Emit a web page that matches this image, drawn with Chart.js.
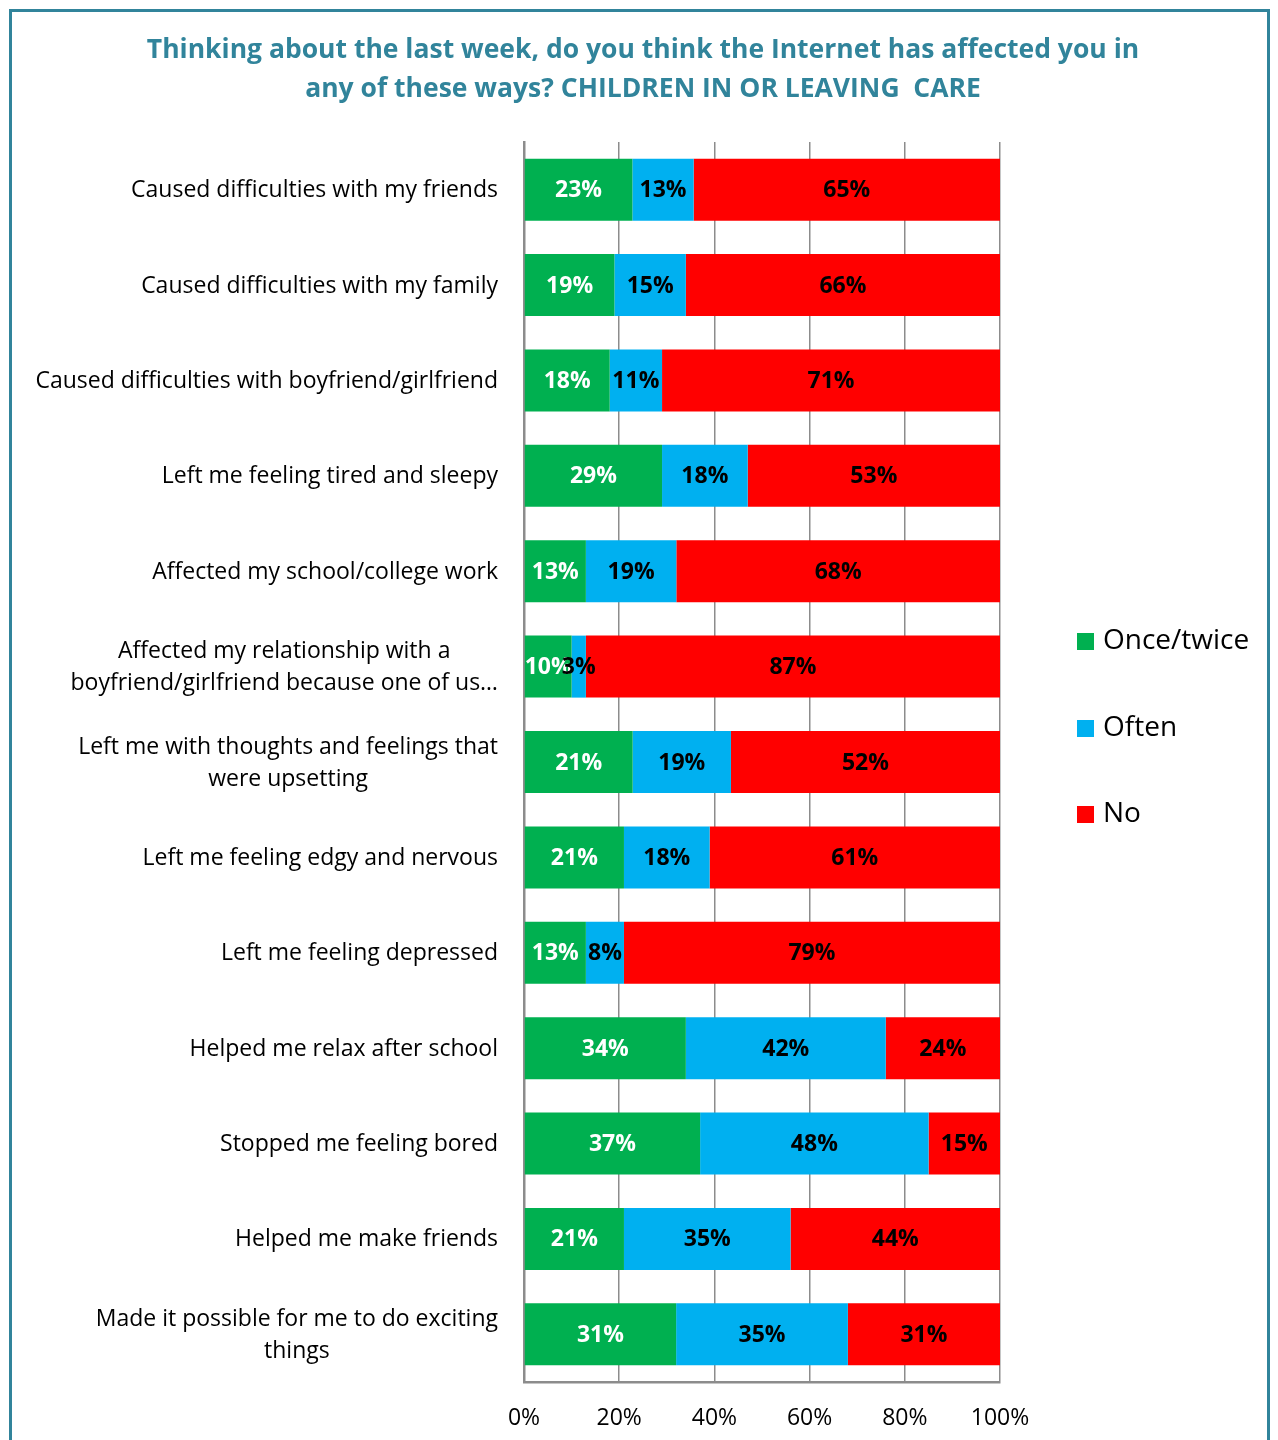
<!DOCTYPE html>
<html>
<head>
<meta charset="utf-8">
<title>Internet effects - children in or leaving care</title>
<script src="https://cdn.jsdelivr.net/npm/chart.js@4/dist/chart.umd.min.js"></script>
<style>
  html, body { margin: 0; padding: 0; background: #ffffff; }
  body { width: 1278px; height: 1440px; position: relative; overflow: hidden; }
  #frame {
    position: absolute; left: 9px; top: 9px; width: 1261px; height: 1500px;
    border: 3px solid #31849B; box-sizing: border-box;
  }
  #chart { position: absolute; left: 0; top: 0; }
</style>
</head>
<body>
<div id="frame"></div>
<canvas id="chart" width="1278" height="1440"></canvas>
<script>
// Survey statements, top to bottom
const categories = [
  "Caused difficulties with my friends",
  "Caused difficulties with my family",
  "Caused difficulties with boyfriend/girlfriend",
  "Left me feeling tired and sleepy",
  "Affected my school/college work",
  ["Affected my relationship with a", "boyfriend/girlfriend because one of us\u2026"],
  ["Left me with thoughts and feelings that", "were upsetting"],
  "Left me feeling edgy and nervous",
  "Left me feeling depressed",
  "Helped me relax after school",
  "Stopped me feeling bored",
  "Helped me make friends",
  ["Made it possible for me to do exciting", "things"]
];

// Reported percentages per answer
const onceTwice = [23, 19, 18, 29, 13, 10, 21, 21, 13, 34, 37, 21, 31];
const often     = [13, 15, 11, 18, 19,  3, 19, 18,  8, 42, 48, 35, 35];
const no        = [65, 66, 71, 53, 68, 87, 52, 61, 79, 24, 15, 44, 31];

const seriesNames = ["Once/twice", "Often", "No"];
const xTicks = [0, 20, 40, 60, 80, 100];
const titleLines = [
  "Thinking about the last week, do you think the Internet has affected you in",
  "any of these ways? CHILDREN IN OR LEAVING  CARE"
];

const FONT = "'Open Sans', 'Noto Sans', sans-serif";

// 100% stacked: each bar is scaled to the row total
const totals = onceTwice.map((v, i) => v + often[i] + no[i]);
const share = arr => arr.map((v, i) => v / totals[i] * 100);

// Two-line heading centred over the frame
const heading = {
  id: 'heading',
  afterDraw(chart) {
    const ctx = chart.ctx;
    ctx.save();
    ctx.font = "bold 26.5px " + FONT;
    ctx.fillStyle = '#31849B';
    ctx.textAlign = 'center';
    ctx.textBaseline = 'middle';
    ctx.fillText(titleLines[0], 643, 50);
    ctx.fillText(titleLines[1], 643, 89);
    ctx.restore();
  }
};

// Value labels centred in every segment
const segmentLabels = {
  id: 'segmentLabels',
  afterDatasetsDraw(chart) {
    const ctx = chart.ctx;
    ctx.save();
    ctx.font = "bold 23px " + FONT;
    ctx.textAlign = 'center';
    ctx.textBaseline = 'middle';
    chart.data.datasets.forEach((ds, di) => {
      const meta = chart.getDatasetMeta(di);
      meta.data.forEach((bar, i) => {
        const p = bar.getProps(['x', 'y', 'base'], true);
        const cx = (p.x + p.base) / 2;
        ctx.fillStyle = ds.labelColor;
        ctx.fillText(ds.values[i] + '%', cx, p.y + 1);
      });
    });
    ctx.restore();
  }
};

// Category labels: block right-aligned to the axis, lines centred within the block
const categoryLabels = {
  id: 'categoryLabels',
  afterDraw(chart) {
    const ctx = chart.ctx;
    const yScale = chart.scales.y;
    const right = chart.chartArea.left - 26;
    const maxBlock = 428;
    const lineGap = 32;
    ctx.save();
    ctx.font = "23px " + FONT;
    ctx.fillStyle = '#000000';
    ctx.textBaseline = 'middle';
    ctx.textAlign = 'center';
    chart.data.labels.forEach((lab, i) => {
      const lines = Array.isArray(lab) ? lab : [lab];
      let w = Math.max(...lines.map(t => ctx.measureText(t).width));
      if (lines.length > 1) w = Math.min(w, maxBlock);
      const cx = right - w / 2;
      const cy = yScale.getPixelForValue(i) + 1;
      const y0 = cy - (lines.length - 1) * lineGap / 2;
      lines.forEach((t, k) => ctx.fillText(t, cx, y0 + k * lineGap));
    });
    ctx.restore();
  }
};

// Vertical legend to the right of the plot
const sideLegend = {
  id: 'sideLegend',
  afterDraw(chart) {
    const ctx = chart.ctx;
    const x = chart.chartArea.right + 77;
    const ys = [641, 728, 814];
    ctx.save();
    ctx.font = "28px " + FONT;
    ctx.textBaseline = 'middle';
    ctx.textAlign = 'left';
    chart.data.datasets.forEach((ds, i) => {
      ctx.fillStyle = ds.backgroundColor;
      ctx.fillRect(x, ys[i] - 8, 17, 17);
      ctx.fillStyle = '#000000';
      ctx.fillText(ds.label, x + 26, ys[i]);
    });
    ctx.restore();
  }
};

new Chart(document.getElementById('chart'), {
  type: 'bar',
  data: {
    labels: categories,
    datasets: [
      { label: seriesNames[0], data: share(onceTwice), values: onceTwice, backgroundColor: '#00B050', labelColor: '#ffffff' },
      { label: seriesNames[1], data: share(often), values: often, backgroundColor: '#00B0F0', labelColor: '#000000' },
      { label: seriesNames[2], data: share(no), values: no, backgroundColor: '#FF0000', labelColor: '#000000' }
    ]
  },
  options: {
    indexAxis: 'y',
    responsive: false,
    animation: false,
    devicePixelRatio: 1,
    categoryPercentage: 1,
    barPercentage: 0.65,
    layout: { padding: { left: 524, right: 278, top: 142, bottom: 0 } },
    plugins: {
      legend: { display: false },
      tooltip: { enabled: false },
      title: { display: false }
    },
    scales: {
      x: {
        stacked: true,
        min: 0,
        max: 100,
        afterBuildTicks(scale) { scale.ticks = xTicks.map(v => ({ value: v })); },
        afterFit(scale) { scale.height = 58; },
        ticks: {
          callback: v => v + '%',
          color: '#000000',
          font: { family: FONT, size: 23 },
          padding: 23,
          maxRotation: 0
        },
        grid: { color: '#8c8c8c', lineWidth: 1.5, drawTicks: false },
        border: { display: true, color: '#8c8c8c', width: 2.5 }
      },
      y: {
        stacked: true,
        ticks: { display: false },
        grid: { display: false, drawTicks: false },
        border: { display: true, color: '#8c8c8c', width: 2.5 }
      }
    }
  },
  plugins: [heading, segmentLabels, categoryLabels, sideLegend]
});
</script>
</body>
</html>
